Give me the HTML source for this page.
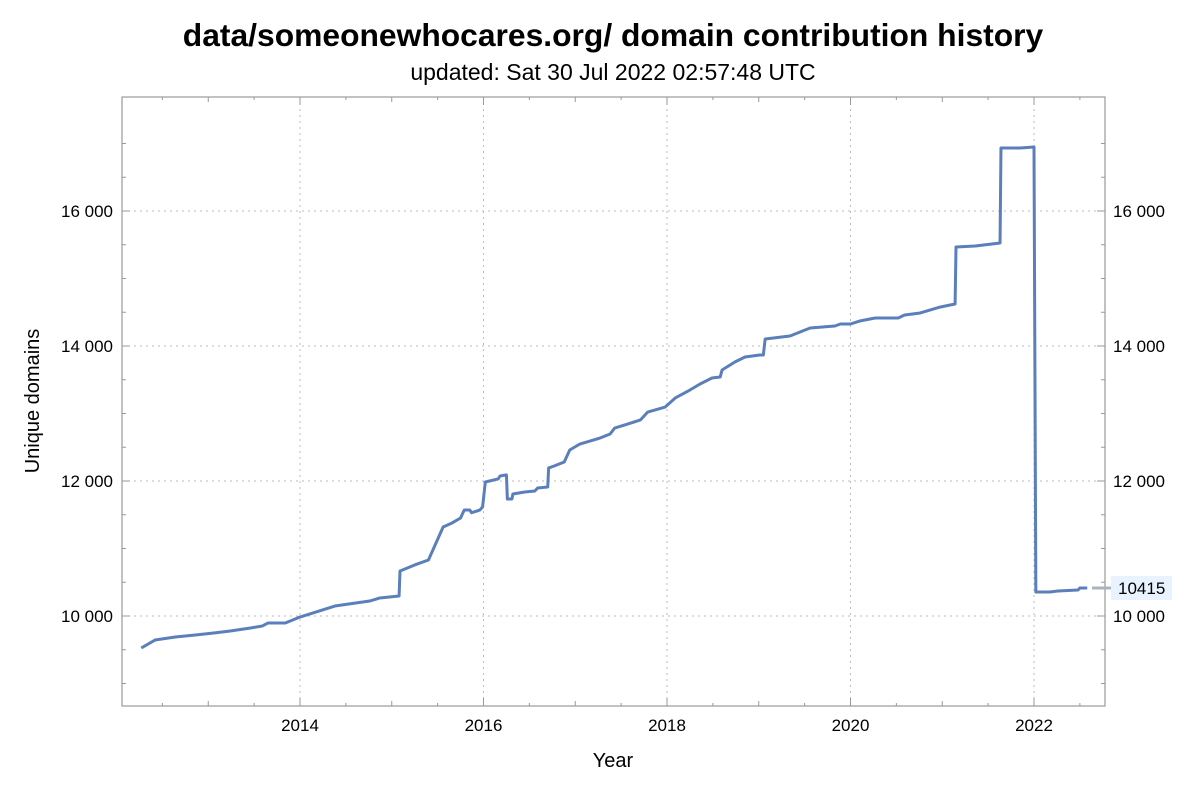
<!DOCTYPE html>
<html><head><meta charset="utf-8"><style>
body{margin:0;background:#fff;font-family:"Liberation Sans",Arial,sans-serif;}
</style></head><body>
<svg id="chart" width="1192" height="798" xmlns="http://www.w3.org/2000/svg" font-family="Liberation Sans, Arial, sans-serif">
<text x="613" y="46" text-anchor="middle" font-size="31.8" font-weight="bold">data/someonewhocares.org/ domain contribution history</text>
<text x="613" y="80" text-anchor="middle" font-size="23">updated: Sat 30 Jul 2022 02:57:48 UTC</text>
<g id="grid"></g>
<rect x="122" y="97" width="983" height="609" fill="none" stroke="#999" stroke-width="1.2"/>
<g id="axes"></g>
<polyline id="line" fill="none" stroke="#5a7fba" stroke-width="3" stroke-linejoin="round"/>
<line x1="1092" y1="588" x2="1111" y2="588" stroke="#a8b4c0" stroke-width="3"/>
<rect x="1111" y="576" width="61" height="24" fill="#e8f3ff"/>
<text x="1118" y="594" font-size="17">10415</text>
<text x="613" y="767" text-anchor="middle" font-size="20">Year</text>
<text transform="translate(39,401) rotate(-90)" text-anchor="middle" font-size="20">Unique domains</text>
</svg>
<script>
const years=[2012.27,2012.42,2012.64,2012.86,2013.06,2013.24,2013.46,2013.59,2013.65,2013.84,2014.0,2014.38,2014.76,2014.87,2015.08,2015.09,2015.25,2015.40,2015.56,2015.66,2015.75,2015.79,2015.85,2015.87,2015.96,2015.99,2016.02,2016.16,2016.18,2016.24,2016.25,2016.26,2016.31,2016.32,2016.45,2016.56,2016.59,2016.70,2016.71,2016.77,2016.88,2016.94,2017.05,2017.27,2017.38,2017.43,2017.54,2017.71,2017.79,2017.98,2018.09,2018.25,2018.36,2018.49,2018.58,2018.60,2018.74,2018.85,2019.01,2019.05,2019.07,2019.34,2019.56,2019.83,2019.89,2020.0,2020.10,2020.27,2020.52,2020.59,2020.76,2020.98,2021.14,2021.15,2021.36,2021.63,2021.64,2021.85,2022.0,2022.02,2022.17,2022.26,2022.48,2022.50,2022.58];
const values=[9526,9644,9689,9719,9748,9778,9822,9852,9896,9896,9985,10148,10222,10267,10296,10667,10756,10830,11318,11380,11452,11570,11570,11530,11570,11615,11985,12030,12074,12089,12089,11733,11733,11807,11837,11852,11896,11911,12193,12222,12281,12459,12548,12637,12696,12785,12830,12904,13022,13096,13230,13348,13437,13526,13541,13644,13763,13837,13867,13867,14104,14148,14267,14296,14326,14326,14370,14415,14415,14459,14489,14578,14622,15467,15481,15526,16933,16933,16948,10356,10356,10370,10385,10415,10415];
const yTicks=[10000,12000,14000,16000];
const yTickLabels=["10 000","12 000","14 000","16 000"];
const xTicks=[2014,2016,2018,2020,2022];
const xTickLabels=["2014","2016","2018","2020","2022"];
const X=y=>300+(y-2014)*91.75;
const Y=v=>616-(v-10000)*0.0675;
const NS="http://www.w3.org/2000/svg";
const grid=document.getElementById('grid'),axes=document.getElementById('axes');
function mk(tag,attrs,parent,txt){const e=document.createElementNS(NS,tag);for(const k in attrs)e.setAttribute(k,attrs[k]);if(txt!==undefined)e.textContent=txt;parent.appendChild(e);return e;}
yTicks.forEach((v,i)=>{
 const g=mk('line',{x1:122,x2:1105,y1:Y(v),y2:Y(v),stroke:'#bbb','stroke-dasharray':'2,4'},grid);
 
 
 const t1=mk('text',{x:113,y:Y(v)+6,'text-anchor':'end','font-size':17},axes,yTickLabels[i]);
 
 
 const t2=mk('text',{x:1113,y:Y(v)+6,'font-size':17},axes,yTickLabels[i]);
 
 
});
for(let v=9000;v<=17000;v+=500){
 const len=(v%2000===0)?8:4;
 mk('line',{x1:122,x2:122+len,y1:Y(v),y2:Y(v),stroke:'#999'},axes);
 mk('line',{x1:1105-len,x2:1105,y1:Y(v),y2:Y(v),stroke:'#999'},axes);
}
for(let y=2012.5;y<=2022.75;y+=0.5){
 const major=Math.abs(y%2)<1e-9;const len=major?8:(Math.abs(y%1)<1e-9?5:3);
 mk('line',{x1:X(y),x2:X(y),y1:706-len,y2:706,stroke:'#999'},axes);
 mk('line',{x1:X(y),x2:X(y),y1:97,y2:97+len,stroke:'#999'},axes);
}
xTicks.forEach((y,i)=>{
 const g=mk('line',{x1:X(y),x2:X(y),y1:97,y2:706,stroke:'#bbb','stroke-dasharray':'2,4'},grid);
 
 
 const t=mk('text',{x:X(y),y:731,'text-anchor':'middle','font-size':17},axes,xTickLabels[i]);
 
 
});
document.getElementById('line').setAttribute('points',years.map((y,i)=>X(y)+','+Y(values[i])).join(' '));
</script>
</body></html>
